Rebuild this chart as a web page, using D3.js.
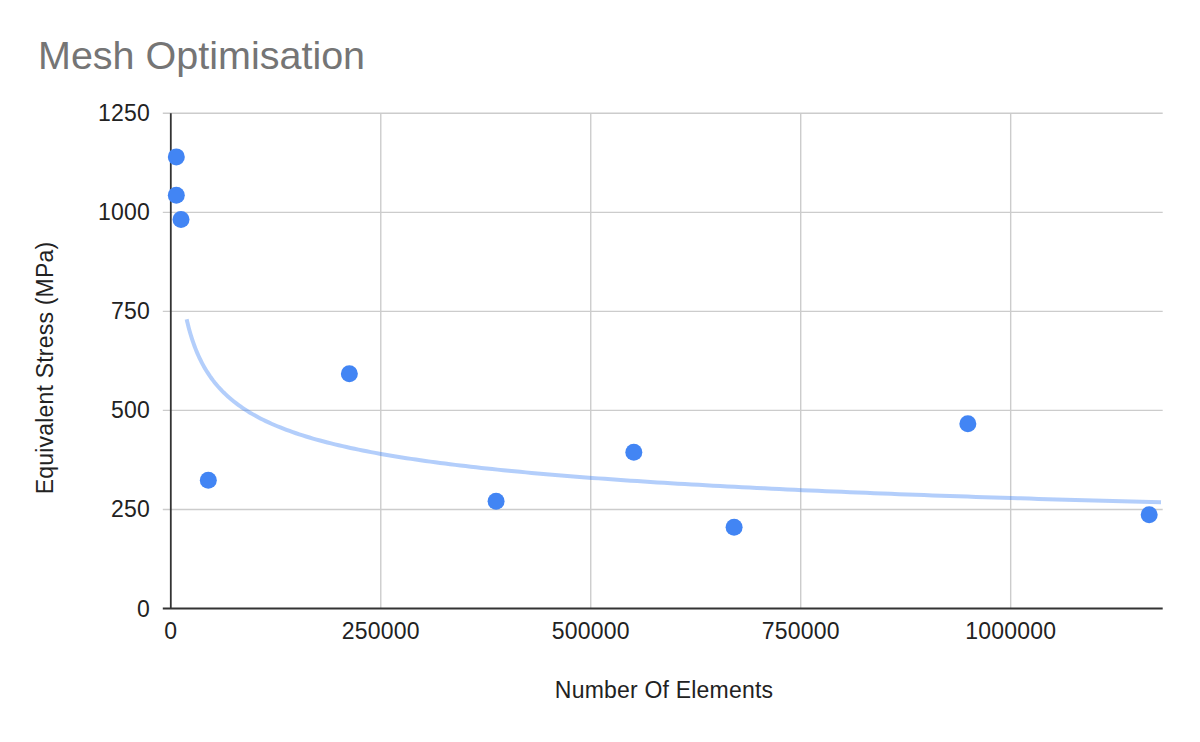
<!DOCTYPE html>
<html>
<head>
<meta charset="utf-8">
<script src="https://cdn.jsdelivr.net/npm/d3@7"></script>
<style>
  html, body { margin: 0; padding: 0; background: #fff; }
  svg { display: block; font-family: Arial, "Liberation Sans", sans-serif; }
</style>
</head>
<body>
<svg id="chart" width="1200" height="742"></svg>
<script>
// ---- data ----
const chartTitle = "Mesh Optimisation";
const xAxisTitle = "Number Of Elements";
const yAxisTitle = "Equivalent Stress (MPa)";
const elements = [6550, 6550, 12150, 44660, 212600, 387300, 551300, 670700, 949000, 1164900];
const stress   = [1140, 1043, 982, 323.6, 592.7, 271, 394.3, 205, 466.5, 236.8];
const xTicks = [0, 250000, 500000, 750000, 1000000];
const yTicks = [0, 250, 500, 750, 1000, 1250];
const xDomain = [0, 1181000];
const yDomain = [0, 1250];
// power trendline y = a * x^b as drawn in the reference
const trendA = 7949;
const trendB = -0.24249;
const trendStart = 18900;

// ---- layout ----
const svg = d3.select("#chart");
const plotLeft = 170.8, plotRight = 1162.7, plotTop = 113.3, plotBottom = 608.5;

const x = d3.scaleLinear().domain(xDomain).range([plotLeft, plotRight]);
const y = d3.scaleLinear().domain(yDomain).range([plotBottom, plotTop]);

// title
svg.append("text")
  .attr("x", 38).attr("y", 69)
  .attr("font-size", 39.5).attr("fill", "#757575")
  .text(chartTitle);

// horizontal gridlines
svg.append("g").selectAll("line").data(yTicks.filter(d => d !== 0)).join("line")
  .attr("x1", plotLeft - 8).attr("x2", plotRight)
  .attr("y1", d => y(d)).attr("y2", d => y(d))
  .attr("stroke", "#cccccc").attr("stroke-width", 1.4);

// vertical gridlines
svg.append("g").selectAll("line").data(xTicks.filter(d => d !== 0)).join("line")
  .attr("x1", d => x(d)).attr("x2", d => x(d))
  .attr("y1", plotTop).attr("y2", plotBottom)
  .attr("stroke", "#cccccc").attr("stroke-width", 1.4);

// axes lines
svg.append("line").attr("x1", plotLeft).attr("x2", plotLeft).attr("y1", plotTop).attr("y2", plotBottom)
  .attr("stroke", "#333333").attr("stroke-width", 1.8);
svg.append("line").attr("x1", plotLeft - 8).attr("x2", plotRight).attr("y1", plotBottom).attr("y2", plotBottom)
  .attr("stroke", "#333333").attr("stroke-width", 1.8);

const labelStyle = sel => sel.attr("font-size", 23).attr("letter-spacing", 0.2).attr("fill", "#222");

// y tick labels
svg.append("g").selectAll("text").data(yTicks).join("text")
  .attr("x", 150).attr("y", d => y(d) + 8)
  .attr("text-anchor", "end").call(labelStyle)
  .text(d => d);

// x tick labels
svg.append("g").selectAll("text").data(xTicks).join("text")
  .attr("x", d => x(d)).attr("y", 638.5)
  .attr("text-anchor", "middle").call(labelStyle)
  .text(d => d);

// axis titles
svg.append("text")
  .attr("x", 664).attr("y", 698)
  .attr("text-anchor", "middle").call(labelStyle)
  .text(xAxisTitle);
svg.append("text")
  .attr("transform", "translate(53.3,368) rotate(-90)")
  .attr("text-anchor", "middle").call(labelStyle)
  .text(yAxisTitle);

// trendline
const trendXs = d3.range(0, 201).map(i => trendStart + (xDomain[1] - 2000 - trendStart) * Math.pow(i / 200, 2));
const line = d3.line().x(d => x(d)).y(d => y(trendA * Math.pow(d, trendB))).curve(d3.curveLinear);
svg.append("path")
  .attr("d", line(trendXs))
  .attr("fill", "none").attr("stroke", "#4285f4").attr("stroke-opacity", 0.4)
  .attr("stroke-width", 4);

// points
svg.append("g").selectAll("circle").data(elements.map((e, i) => [e, stress[i]])).join("circle")
  .attr("cx", d => x(d[0])).attr("cy", d => y(d[1])).attr("r", 8.5)
  .attr("fill", "#4285f4");
</script>
</body>
</html>
